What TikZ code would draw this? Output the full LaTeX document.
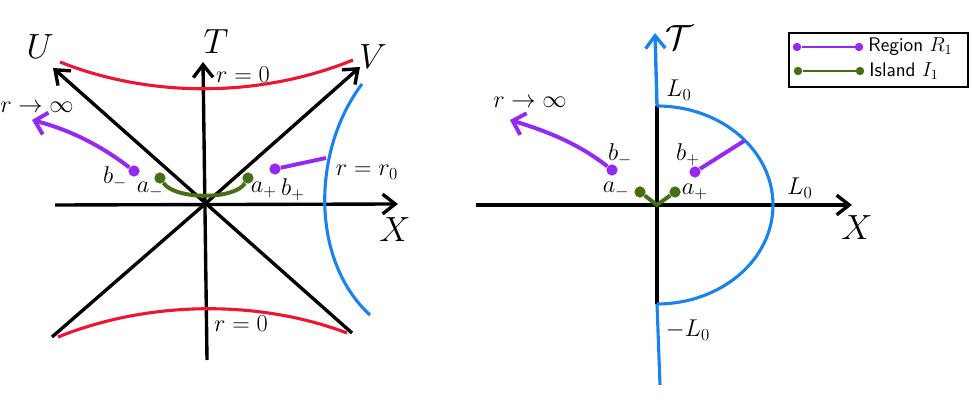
\documentclass[tikz,border=0pt]{standalone}
\usepackage{amsmath,amssymb}
\usepackage{tikz}
\usetikzlibrary{arrows.meta, positioning}
\definecolor{accentred}{RGB}{238, 20, 50}
\definecolor{accentblue}{RGB}{25, 130, 240}
\definecolor{accentpurple}{RGB}{150, 40, 245}
\definecolor{accentgreen}{RGB}{70, 110, 20}
\tikzset{
  axis/.style={line width=2.4pt, -{Straight Barb[length=9pt,width=14pt]}},
  big/.style={font=\fontsize{26}{26}\selectfont},
  mid/.style={font=\fontsize{18}{18}\selectfont},
  dot/.style={circle, fill, inner sep=0pt, minimum size=8pt},
}
\begin{document}
\begin{tikzpicture}[x=0.025cm, y=-0.025cm]
    \useasboundingbox (0,0) rectangle (972,411);
    % Diagrama izquierdo
    \begin{scope}
        \coordinate (o1) at (205,204);
        \draw[axis] (55,205) -- (398,204);
        \draw[axis] (207,360) -- (203,62);
        \draw[axis] (352,333) -- (53,68);
        \draw[line width=2.4pt] (52,337) -- (o1);
        \draw[axis] (o1) -- (360,67);
        \draw[accentred, line width=2.2pt] (60,62) .. controls (150,98) and (260,98) .. (353,60);
        \draw[accentred, line width=2.2pt] (58,337) .. controls (150,300) and (260,300) .. (347,333);
        \draw[accentblue, line width=2.2pt] (362,84) .. controls (312,150) and (310,260) .. (370,315);
        \node[big] (lblU) at (40,47) {$U$};
        \node[big] (lblT) at (216,42) {$T$};
        \node[big] (lblV) at (373,57) {$V$};
        \node[big] (lblX) at (395,230) {$X$};
        \node[mid] (r0a) at (243,75) {$r=0$};
        \node[mid] (r0b) at (241,324) {$r=0$};
        \node[mid] (rr0) at (367,172) {$r=r_0$};
        \node[mid, anchor=west, inner sep=0pt] (inf1) at (0,107) {$r\to\infty$};
        % puntos
        \node[dot, accentpurple] (bm1) at (134,171) {};
        \node[dot, accentpurple] (bp1) at (275,169) {};
        \node[dot, accentgreen] (am1) at (160,178) {};
        \node[dot, accentgreen] (ap1) at (248,178) {};
        \coordinate (edge1) at (326,158);
        \draw[accentpurple, line width=2.8pt, -{Straight Barb[length=8pt,width=16pt]}] (bm1) .. controls (100,145) and (70,130) .. (32,120);
        \draw[accentpurple, line width=2.8pt] (bp1) -- (edge1);
        \draw[accentgreen, line width=2.8pt] (am1) .. controls (175,200) and (235,200) .. (ap1);
        \node[mid] (lbm1) at (115,178) {$b_-$};
        \node[mid] (lam1) at (150,190) {$a_-$};
        \node[mid] (lap1) at (264,190) {$a_+$};
        \node[mid] (lbp1) at (293,190) {$b_+$};
    \end{scope}
    % Diagrama derecho
    \begin{scope}
        \coordinate (o2) at (657,205);
        \coordinate (top2) at (657,106);
        \coordinate (bot2) at (657,304);
        \draw[axis] (476,205) -- (852,205);
        \draw[line width=2.4pt] (top2) -- (bot2);
        \draw[accentblue, line width=2.2pt] (660,385) -- (bot2);
        \draw[accentblue, axis] (top2) -- (655,33);
        \draw[accentblue, line width=2.2pt] (top2) arc[start angle=90, end angle=-90, x radius=116, y radius=-99];
        \node[big] (lblT2) at (679,38) {$\mathcal{T}$};
        \node[big] (lblX2) at (857,228) {$X$};
        \node[mid] (L0a) at (679,90) {$L_0$};
        \node[mid] (L0b) at (800,188) {$L_0$};
        \node[mid] (L0c) at (688,330) {$-L_0$};
        \node[mid] (inf2) at (530,102) {$r\to\infty$};
        \node[dot, accentpurple] (bm2) at (612,170) {};
        \node[dot, accentpurple] (bp2) at (695,172) {};
        \node[dot, accentgreen] (am2) at (640,192) {};
        \node[dot, accentgreen] (ap2) at (675,192) {};
        \coordinate (edge2) at (744,141);
        \draw[accentpurple, line width=2.8pt, -{Straight Barb[length=8pt,width=16pt]}] (bm2) .. controls (580,145) and (550,132) .. (510,120);
        \draw[accentpurple, line width=2.8pt] (bp2) -- (edge2);
        \draw[accentgreen, line width=2.8pt] (am2) -- (o2) -- (ap2);
        \node[mid] (lbm2) at (620,155) {$b_-$};
        \node[mid] (lbp2) at (688,155) {$b_+$};
        \node[mid] (lam2) at (616,190) {$a_-$};
        \node[mid] (lap2) at (695,192) {$a_+$};
    \end{scope}
    % Leyenda
    \draw[line width=1pt] (789,33) rectangle (968,87);
    \node[dot, accentpurple, minimum size=6pt] (lr1) at (797,47) {};
    \node[dot, accentpurple, minimum size=6pt] (lr2) at (859,47) {};
    \node[dot, accentgreen, minimum size=6pt] (li1) at (798,71) {};
    \node[dot, accentgreen, minimum size=6pt] (li2) at (860,71) {};
    \draw[accentpurple, line width=1.6pt] (lr1) -- (lr2);
    \draw[accentgreen, line width=1.6pt] (li1) -- (li2);
    \node[right=0pt of lr2, font=\fontsize{14}{14}\sffamily] (legR) {Region $R_1$};
    \node[right=0pt of li2, font=\fontsize{14}{14}\sffamily] (legI) {Island $I_1$};
\end{tikzpicture}
\end{document}
